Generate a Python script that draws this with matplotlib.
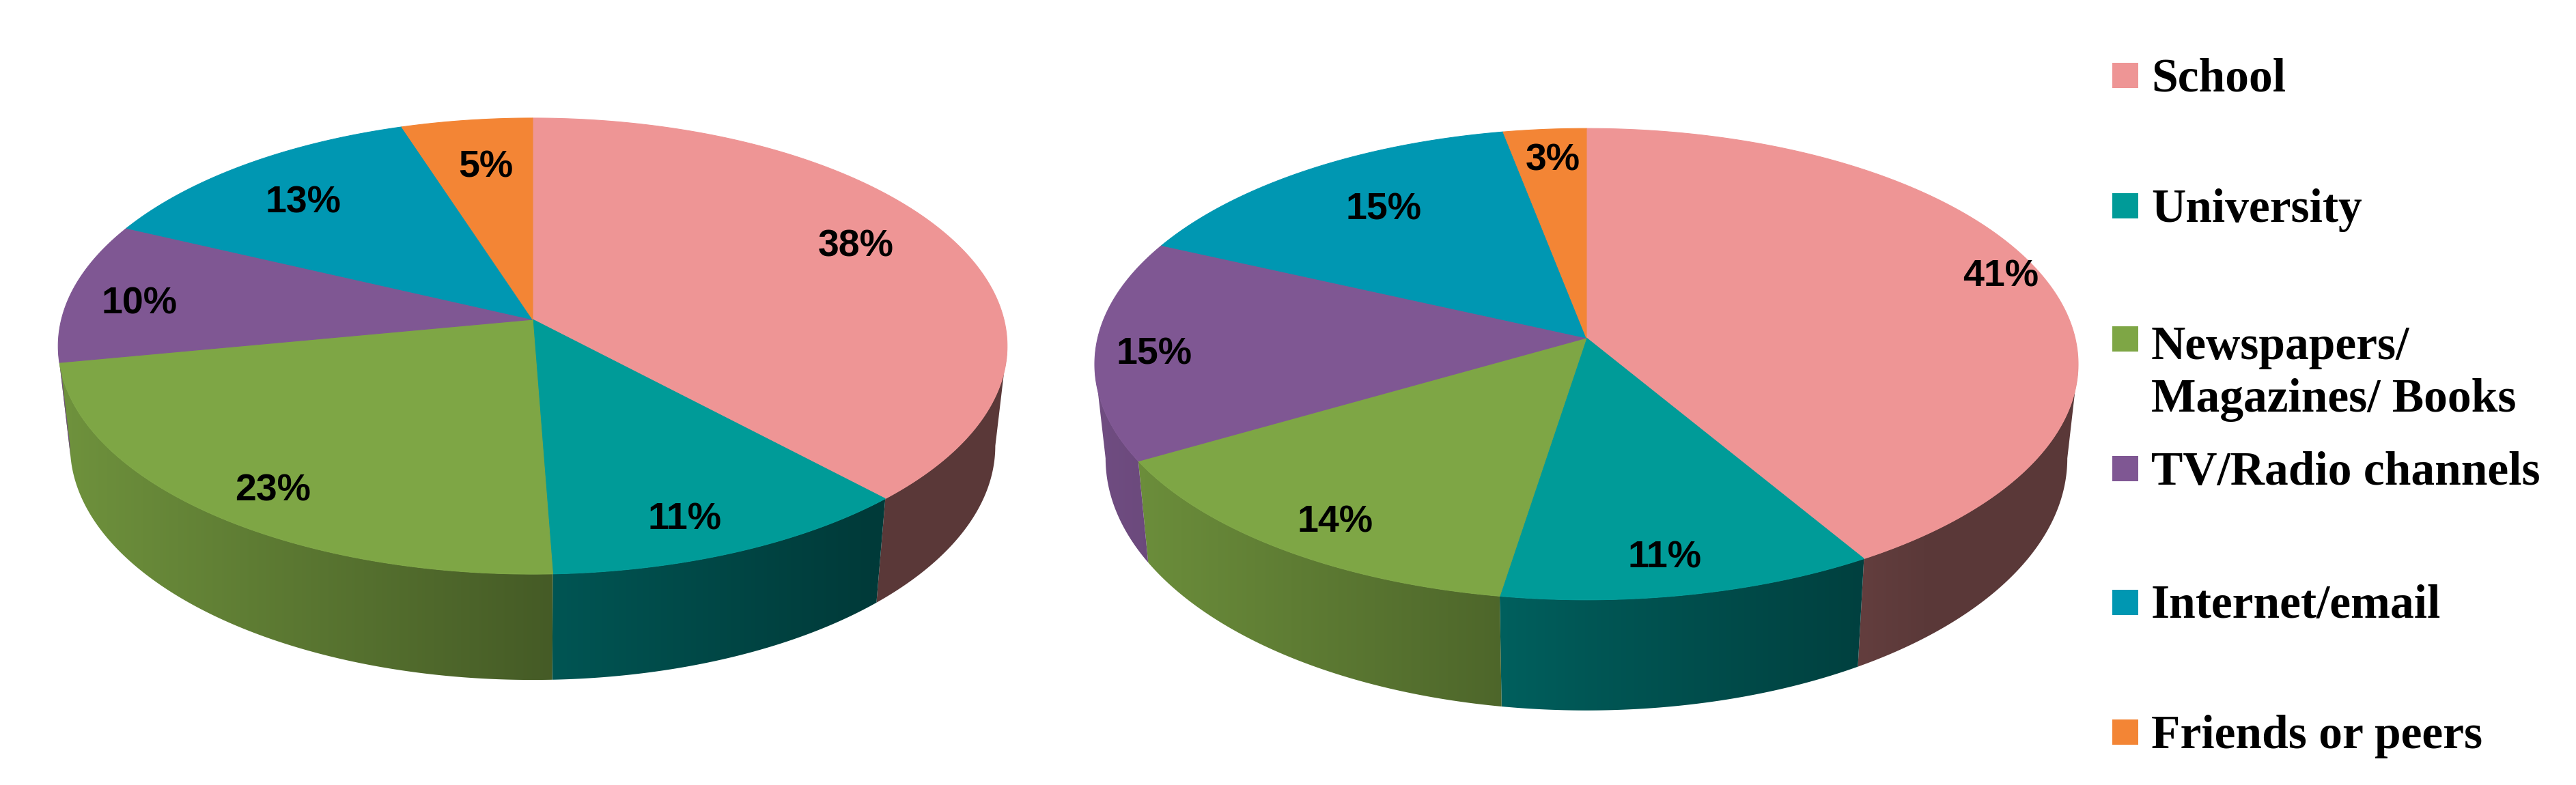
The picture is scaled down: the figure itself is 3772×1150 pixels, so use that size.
import numpy as np
import matplotlib
matplotlib.use("Agg")
import matplotlib.pyplot as plt
from matplotlib.colors import to_rgb
from matplotlib.patches import Polygon, Rectangle

categories = ["School", "University", "Newspapers/\nMagazines/ Books",
              "TV/Radio channels", "Internet/email", "Friends or peers"]
# slices, printed rounded
left_values = [38, 11.4, 22.6, 10, 13, 5]
right_values = [41, 11, 14, 15, 15, 3]
colors = ["#EE9595", "#009B98", "#7EA645", "#7F5793", "#0097B2", "#F38535"]

# apex x/y, horizontal and vertical size, perspective, wall height (near + far part)
left_pie = dict(cx=780, cy=468, sx=690, sy=329.5, k=0.1168, t0=145, t1=10, shrink=0.975)
right_pie = dict(cx=2323, cy=495, sx=715.5, sy=341, k=0.1114, t0=135, t1=27, shrink=0.978)

left_label_pos = [(1253, 361), (1003, 762), (400, 720), (204, 446), (444, 297), (711, 246)]
right_label_pos = [(2930, 406), (2438, 818), (1955, 766), (1690, 519), (2026, 307), (2274, 235)]

legend_square_y = [110, 301, 496, 686, 882, 1072]
legend_text_y = [133, 325, 603, 710, 905, 1096]


def top_points(theta, pie):
    # theta runs clockwise from 12 o'clock
    u, v = np.sin(theta), np.cos(theta)
    d = 1 + pie["k"] * v
    return pie["cx"] + pie["sx"] * u / d, pie["cy"] - pie["sy"] * v / d


def wall_points(theta, pie):
    u, v = np.sin(theta), np.cos(theta)
    d = 1 + pie["k"] * v
    x = pie["cx"] + pie["sx"] * pie["shrink"] * u / d
    y = pie["cy"] - pie["sy"] * v / d + pie["t0"] - pie["t1"] * v
    return x, y


def draw_wall(ax, a, b, color, pie):
    # only the front part of the side can be seen
    edge = np.arccos(-pie["k"])
    a, b = max(a, edge), min(b, 2 * np.pi - edge)
    if b <= a:
        return
    theta = np.linspace(a, b, 200)
    x1, y1 = top_points(theta, pie)
    x2, y2 = wall_points(theta, pie)
    xs = np.r_[x1, x2[::-1]]
    ys = np.r_[y1, y2[::-1]]

    # darker to the right
    grid = np.linspace(xs.min(), xs.max(), 300)
    pos = (grid - pie["cx"]) / pie["sx"]
    shade = np.interp(pos, [-1, 0, 0.7, 1], [0.88, 0.56, 0.38, 0.38])
    img = np.outer(shade, to_rgb(color)).reshape(1, -1, 3)
    im = ax.imshow(img, extent=(xs.min(), xs.max(), ys.max(), ys.min()),
                   aspect="auto", zorder=2, interpolation="bilinear")
    poly = Polygon(np.c_[xs, ys], closed=True, transform=ax.transData,
                   facecolor="none", edgecolor="none")
    ax.add_patch(poly)
    im.set_clip_path(poly)


def draw_pie(ax, values, pie, label_pos):
    total = sum(values)
    edges = 2 * np.pi * np.cumsum([0] + values) / total
    for i in range(len(values)):
        draw_wall(ax, edges[i], edges[i + 1], colors[i], pie)
    for i in range(len(values)):
        theta = np.linspace(edges[i], edges[i + 1], 200)
        x, y = top_points(theta, pie)
        xs = np.r_[pie["cx"], x]
        ys = np.r_[pie["cy"], y]
        ax.add_patch(Polygon(np.c_[xs, ys], closed=True, facecolor=colors[i],
                             edgecolor=colors[i], linewidth=0.8, zorder=3))
        ax.text(label_pos[i][0], label_pos[i][1], f"{round(values[i])}%", ha="center", va="center",
                family="Liberation Sans", fontweight="bold",
                fontsize=40, color="black", zorder=4)


fig = plt.figure(figsize=(37.72, 11.5), dpi=100)
ax = fig.add_axes([0, 0, 1, 1])

draw_pie(ax, left_values, left_pie, left_label_pos)
draw_pie(ax, right_values, right_pie, right_label_pos)

for i in range(len(categories)):
    ax.add_patch(Rectangle((3093, legend_square_y[i] - 18.5), 38, 37, facecolor=colors[i], edgecolor="none"))
    ax.text(3150, legend_text_y[i], categories[i], ha="left", va="baseline", linespacing=1.27,
            family="Liberation Serif", fontweight="bold", fontsize=50, color="black")

ax.set_xlim(0, 3772)
ax.set_ylim(1150, 0)
ax.axis("off")
fig.savefig("out.png", dpi=100, facecolor="white")
